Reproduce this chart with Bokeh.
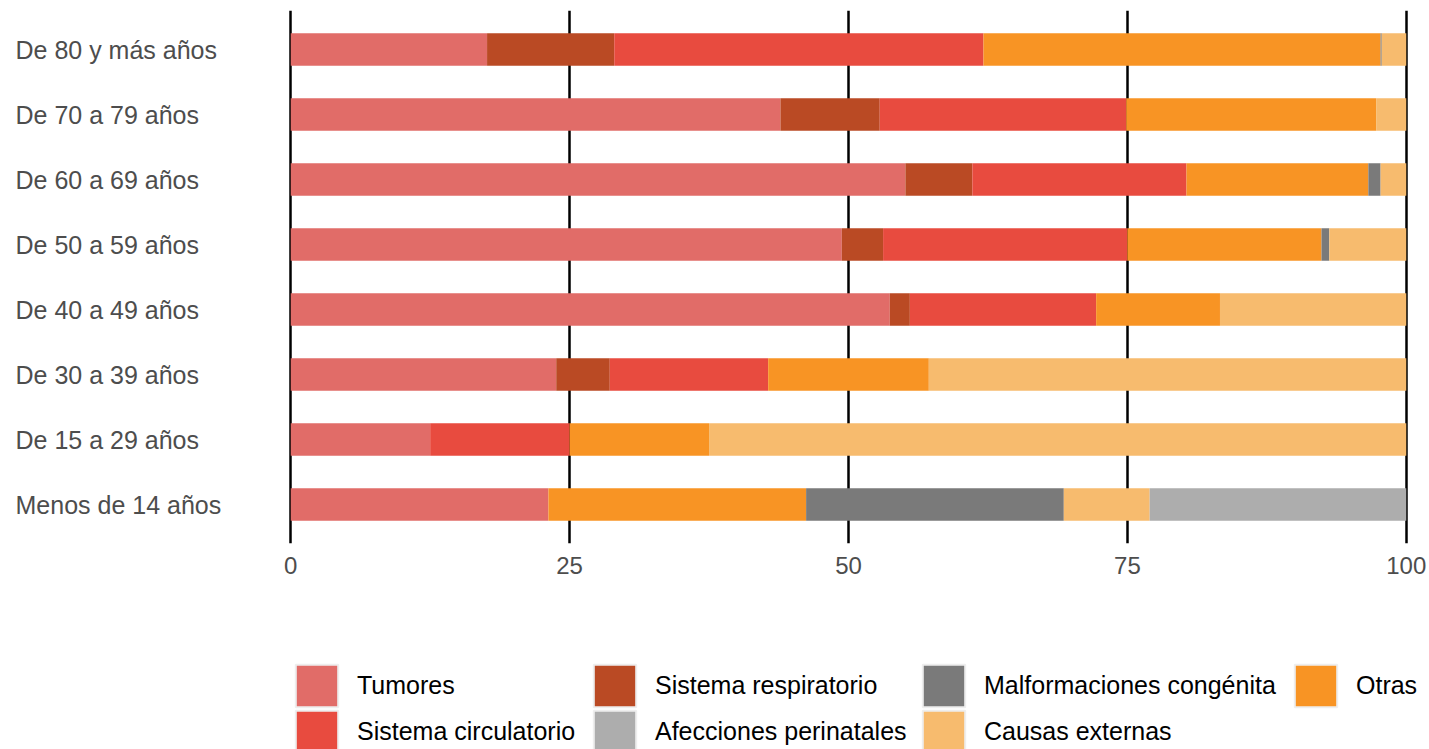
from bokeh.plotting import figure
from bokeh.models import (ColumnDataSource, FactorRange, Range1d, FixedTicker,
                          Legend, LegendItem, LabelSet)
from bokeh.core.properties import value
from bokeh.layouts import column, row
from bokeh.embed import file_html
from bokeh.resources import INLINE

# ---- data ----
ages = ["De 80 y más años", "De 70 a 79 años", "De 60 a 69 años", "De 50 a 59 años",
        "De 40 a 49 años", "De 30 a 39 años", "De 15 a 29 años", "Menos de 14 años"]

tumores = [17.6, 43.9, 55.1, 49.4, 53.7, 23.8, 12.5, 23.1]
respiratorio = [11.4, 8.9, 6.0, 3.7, 1.8, 4.8, 0.0, 0.0]
circulatorio = [33.1, 22.1, 19.2, 21.9, 16.7, 14.2, 12.5, 0.0]
otras = [35.6, 22.4, 16.3, 17.4, 11.1, 14.4, 12.5, 23.1]
malformaciones = [0.1, 0.0, 1.1, 0.7, 0.0, 0.0, 0.0, 23.1]
externas = [2.2, 2.7, 2.3, 6.9, 16.7, 42.8, 62.5, 7.7]
perinatales = [0.0, 0.0, 0.0, 0.0, 0.0, 0.0, 0.0, 23.0]

series_names = ["Tumores", "Sistema respiratorio", "Sistema circulatorio", "Otras",
                "Malformaciones congénita", "Causas externas", "Afecciones perinatales"]
series_values = [tumores, respiratorio, circulatorio, otras, malformaciones, externas, perinatales]
colors = ["#E16C68", "#BA4A24", "#E84B3F", "#F89424", "#7A7A7A", "#F7BB6E", "#ADADAD"]

x_ticks = [0, 25, 50, 75, 100]

# legend grid (ggplot column-major order): rows of the key
legend_rows = [["Tumores", "Sistema respiratorio", "Malformaciones congénita", "Otras"],
               ["Sistema circulatorio", "Afecciones perinatales", "Causas externas"]]

FONT = "Liberation Sans"
TOP_H = 600
LEFT_W = 270
PAD_L = 288 - LEFT_W

data = {"age": ages}
for name, vals in zip(series_names, series_values):
    data[name] = vals
source = ColumnDataSource(data)

y_range = FactorRange(factors=ages[::-1], range_padding=0.1, range_padding_units="absolute")

# ---- main plot ----
p = figure(width=1429 - LEFT_W, height=TOP_H, output_backend="svg", toolbar_location=None,
           y_range=y_range, x_range=Range1d(-0.2, 100.2),
           min_border_left=PAD_L, min_border_right=21, min_border_top=10,
           min_border_bottom=57)
p.outline_line_color = None
p.background_fill_color = "white"

p.hbar_stack(series_names, y="age", height=0.5, color=colors,
             line_color=None, source=source)

p.yaxis.visible = False
p.xaxis.ticker = FixedTicker(ticks=x_ticks)
p.xaxis.axis_line_color = None
p.xaxis.major_tick_line_color = None
p.xaxis.minor_tick_line_color = None
p.xaxis.major_tick_out = 0
p.xaxis.major_tick_in = 0
p.xaxis.major_label_standoff = 13
p.xaxis.major_label_text_font = FONT
p.xaxis.major_label_text_font_size = "24px"
p.xaxis.major_label_text_color = "#4D4D4D"

p.xgrid.ticker = FixedTicker(ticks=x_ticks)
p.xgrid.grid_line_color = "black"
p.xgrid.grid_line_width = 2.5
p.ygrid.grid_line_color = None

# ---- category labels (left aligned) ----
lab = figure(width=LEFT_W, height=TOP_H, output_backend="svg", toolbar_location=None,
             y_range=y_range, x_range=Range1d(0, 1),
             min_border_left=0, min_border_right=0, min_border_top=10,
             min_border_bottom=57)
lab.outline_line_color = None
lab.xaxis.visible = False
lab.yaxis.visible = False
lab.grid.visible = False
labels = LabelSet(x=15, x_units="screen", y="age", y_units="data", text="age",
                  source=ColumnDataSource({"age": ages}),
                  text_align="left", text_baseline="middle",
                  text_font=value(FONT), text_font_size=value("25px"),
                  text_color="#4D4D4D")
lab.add_layout(labels)

# ---- legend panel ----
leg_fig = figure(width=1429, height=749 - TOP_H, output_backend="svg", toolbar_location=None,
                 y_range=FactorRange(factors=ages), x_range=Range1d(0, 100),
                 min_border_left=0, min_border_right=0, min_border_top=0,
                 min_border_bottom=0)
leg_fig.outline_line_color = None
leg_fig.xaxis.visible = False
leg_fig.yaxis.visible = False
leg_fig.grid.visible = False

proxies = {}
for name, col in zip(series_names, colors):
    proxies[name] = leg_fig.hbar(y="age", right=name, height=0.5, fill_color=col,
                                 line_color="#EEEEEE", line_width=2, source=source,
                                 visible=False)

col_x = [290, 588, 917, 1289]
row_y = [37, -9]
for ry, names in zip(row_y, legend_rows):
    for cx, n in zip(col_x, names):
        leg = Legend(items=[LegendItem(label=n, renderers=[proxies[n]])],
                     location=(cx, ry), orientation="vertical",
                     glyph_width=53, glyph_height=53, spacing=0, padding=0, margin=0,
                     label_standoff=14, label_text_font=FONT, label_text_font_size="25px",
                     label_text_color="black", border_line_color=None,
                     background_fill_alpha=0)
        leg_fig.add_layout(leg, "center")

layout = column(row(lab, p), leg_fig)
open("out.html", "w").write(file_html(layout, INLINE))
